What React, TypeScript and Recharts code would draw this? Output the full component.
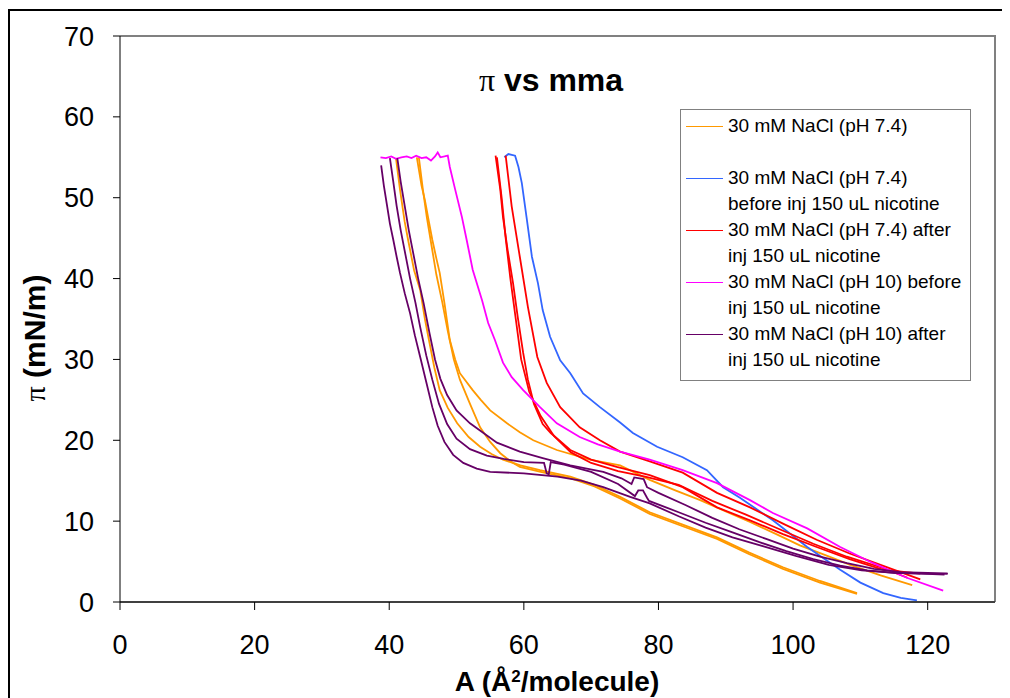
import { Line, LineChart, XAxis, YAxis } from 'recharts'

// x = A (Å²/molecule), y = π (mN/m)
const orangeRun1 = [
  [41.0, 54.9], [41.6, 51], [42.3, 47], [42.8, 44.8], [43.7, 41], [44.6, 38.6], [45.3, 35], [45.9, 32.4],
  [46.7, 29], [47.5, 26.2], [48.7, 24], [50.1, 22.1], [51.8, 20.4], [53.5, 19.2], [55.2, 18.3], [56.9, 17.6],
  [59.5, 16.9], [62.4, 16.3], [66.9, 15.5], [70.5, 14.5], [74.3, 13.0], [78.7, 11.1], [83.5, 9.6], [88.7, 8.0],
  [93.5, 6.1], [98.5, 4.3], [104, 2.6], [109.5, 1.1],
]
const orangeRun2 = [
  [44.4, 55.0], [45.0, 51], [45.6, 47.5], [46.3, 44], [47.0, 40.5], [47.9, 37], [48.7, 33.5], [49.6, 30],
  [50.5, 27.5], [52, 24.5], [53.5, 21.6], [55, 19.8], [56.5, 18.4], [58, 17.4], [59.4, 16.7], [62.5, 16.1],
  [67, 15.3], [70.5, 14.3], [74.3, 12.8], [78.7, 10.9], [83.5, 9.4], [88.7, 7.8], [93.5, 5.9], [98.5, 4.1],
  [104, 2.4], [109.5, 1.0],
]
const orangeRun3 = [
  [44.1, 55.0], [44.8, 51.5], [45.3, 49.7], [45.9, 47], [46.4, 44.8], [47.0, 42.5], [47.5, 40.7], [48.2, 37],
  [49.0, 32.4], [49.8, 30], [50.5, 28.3], [52.4, 26.2], [53.6, 25], [55.0, 23.7], [57.5, 22.1], [59.4, 21],
  [61.4, 20.0], [64.9, 18.8], [69.8, 17.6], [74.3, 16.9], [78.7, 15.1], [82.5, 13.8], [86.2, 12.6], [90, 11.2],
  [93.6, 9.9], [97.5, 8.4], [101.0, 7.0], [104.8, 5.8], [108.5, 4.6], [113, 3.3], [117.7, 2.1],
]

const blueRun = [
  [57.1, 55.0], [57.7, 55.4], [58.7, 55.2], [59.2, 53.8], [59.7, 51.8], [60.4, 47.6], [61.2, 42.7], [62.1, 39.4],
  [62.8, 36.1], [63.9, 32.8], [65.4, 29.9], [66.9, 28.3], [68.8, 25.8], [71.3, 24.1], [74.3, 22.2], [76.2, 20.9],
  [79.8, 19.2], [83.6, 17.9], [87.2, 16.3], [89.6, 14.2], [92.1, 12.9], [97, 10.1], [102.1, 6.8], [107, 4.0],
  [110, 2.4], [113.4, 1.1], [116, 0.5], [118.4, 0.2],
]

const redRun1 = [
  [57.3, 55.2], [58.2, 48.9], [59.4, 42.7], [60.6, 36.5], [62, 30.3], [63.4, 27.1], [65.4, 24.1], [68.3, 21.6],
  [71.3, 20], [74.3, 18.6], [78.7, 17.4], [83.6, 16], [88.7, 13.5], [93.6, 11.7], [98.5, 9.7], [103.5, 7.7],
  [108.4, 6.0], [113.3, 4.5], [118.9, 2.8],
]
const redRun2 = [
  [55.8, 55.2], [56.5, 51], [56.9, 47.6], [57.6, 43.5], [58.4, 39.4], [59.1, 35.2], [59.9, 30.8], [60.6, 27.5],
  [61.5, 24.5], [62.8, 22], [64, 20.9], [66.9, 18.8], [70, 17.6], [73.8, 16.7], [78.7, 15.7], [83.6, 14.2],
  [88.7, 11.7], [93.6, 10.1], [98.5, 8.4], [103.5, 6.8], [108.4, 5.3], [113.3, 4.0], [118.9, 3.5],
]
const redRun3 = [
  [56.0, 55.0], [56.7, 50], [57.3, 45], [58.0, 40], [58.8, 35], [59.6, 30], [60.8, 26], [62.5, 23],
  [64.5, 20.5], [67, 18.5], [70, 17.2], [74, 16.2], [78, 15.5], [83, 14.5], [88, 12.5], [93, 10.8],
  [98, 9.0], [103, 7.2], [108, 5.6], [113, 4.3], [117, 3.0],
]

const magentaRun = [
  [38.7, 55.0], [39.5, 54.9], [40.3, 55.1], [41.0, 54.8], [41.8, 55.0], [42.6, 55.1], [43.3, 54.9], [44.0, 55.2],
  [44.8, 54.9], [45.5, 55.0], [46.2, 54.6], [46.8, 55.1], [47.2, 55.6], [47.6, 55.0], [48.2, 55.1], [48.7, 55.2],
  [49.0, 53.8], [49.8, 51], [50.8, 47.6], [51.5, 44.8], [52.4, 41.1], [53.8, 37.3], [54.7, 34.5], [55.7, 32.4],
  [56.9, 29.6], [58.2, 27.8], [59.9, 26.2], [62.4, 24.1], [64.9, 22.1], [68.3, 20.4], [71, 19.5], [74.3, 18.6],
  [78.7, 17.6], [83.6, 16.3], [88.7, 14.7], [93.6, 12.6], [97, 11.0], [102.1, 9.1], [107, 6.8], [111.9, 4.8],
  [116.9, 3.0], [122.3, 1.4],
]

const purpleRun1 = [
  [38.8, 54.0], [39.2, 51.5], [39.7, 48.9], [40.1, 46.8], [40.6, 44.8], [41.1, 42.7], [41.6, 40.7], [42.3, 38.2],
  [43.1, 35.7], [43.8, 33], [44.6, 30.3], [45.5, 27.2], [46.4, 24.1], [47.2, 21.8], [48.2, 19.8], [49.5, 18.2],
  [51, 17.2], [53, 16.5], [55, 16.1], [60, 15.9], [65, 15.5], [68.5, 15.0], [71.8, 14.2], [75.8, 13.0], [78.7, 12.2],
  [83, 10.6], [87, 9.2], [91, 8.0], [95.5, 6.9], [100.4, 5.7], [105.3, 4.6], [110.2, 3.9], [115.1, 3.6],
  [119.9, 3.5], [122.9, 3.5],
]
const purpleRun2 = [
  [40.1, 54.9], [40.6, 52], [41.1, 49], [41.7, 46], [42.4, 43], [43.1, 40], [43.9, 37], [44.6, 34],
  [45.5, 30.5], [46.4, 27.5], [47.4, 24.5], [48.6, 22], [50, 20.2], [52, 18.9], [54.5, 18.1], [57, 17.7],
  [60, 17.3], [63.0, 17.2], [63.4, 15.9], [63.7, 15.8], [64.0, 17.3], [66, 17.0], [70, 16.1], [74, 14.6],
  [76.5, 13.1], [77.0, 13.8], [77.7, 13.8], [78.3, 12.9], [78.6, 12.5], [83, 11.1], [87, 9.8], [91, 8.6],
  [95, 7.4], [99, 6.3], [103, 5.3], [107, 4.5], [111, 3.9], [115, 3.6], [119, 3.5], [122.5, 3.4],
]
const purpleRun3 = [
  [41.2, 54.9], [41.7, 52], [42.3, 49], [42.9, 46], [43.6, 43], [44.3, 40], [45.1, 37], [46, 33.2],
  [46.8, 30], [47.6, 27.6], [48.6, 25.6], [50, 23.7], [52, 22.1], [56, 19.7], [59.4, 18.6], [62.8, 17.8],
  [66.9, 16.9], [71.8, 16.1], [74.5, 15.3], [76.0, 14.6], [76.4, 15.4], [77.8, 15.2], [78.3, 14.2], [80, 13.5],
  [84, 12.0], [88, 10.4], [92, 9.0], [96, 7.8], [100, 6.6], [104, 5.6], [108, 4.8], [112, 4.1],
  [116, 3.7], [120, 3.6], [123, 3.5],
]

const xTicks = [0, 20, 40, 60, 80, 100, 120]
const yTicks = [0, 10, 20, 30, 40, 50, 60, 70]

const legendItems = [
  { color: '#FF9900', lines: ['30 mM NaCl (pH 7.4)', ''] },
  { color: '#3366FF', lines: ['30 mM NaCl (pH 7.4)', 'before inj 150 uL nicotine'] },
  { color: '#FF0000', lines: ['30 mM NaCl (pH 7.4) after', 'inj 150 uL nicotine'] },
  { color: '#FF00FF', lines: ['30 mM NaCl (pH 10) before', 'inj 150 uL nicotine'] },
  { color: '#660066', lines: ['30 mM NaCl (pH 10) after', 'inj 150 uL nicotine'] },
]

const traces = [
  { key: 'o1', color: '#FF9900', pts: orangeRun1 },
  { key: 'o2', color: '#FF9900', pts: orangeRun2 },
  { key: 'o3', color: '#FF9900', pts: orangeRun3 },
  { key: 'b1', color: '#3366FF', pts: blueRun },
  { key: 'r1', color: '#FF0000', pts: redRun1 },
  { key: 'r2', color: '#FF0000', pts: redRun2 },
  { key: 'r3', color: '#FF0000', pts: redRun3 },
  { key: 'm1', color: '#FF00FF', pts: magentaRun },
  { key: 'p1', color: '#660066', pts: purpleRun1 },
  { key: 'p2', color: '#660066', pts: purpleRun2 },
  { key: 'p3', color: '#660066', pts: purpleRun3 },
]

const FONT = '"Liberation Sans", Arial, sans-serif'

function LegendBox() {
  return (
    <div
      style={{
        position: 'absolute',
        left: 672,
        top: 101,
        width: 291,
        height: 272,
        border: '1px solid #808080',
        background: '#fff',
        paddingTop: 3,
        boxSizing: 'border-box',
        fontFamily: FONT,
        fontSize: 19,
        lineHeight: '26px',
        color: '#000',
      }}
    >
      {legendItems.map((it, i) => (
        <div key={i} style={{ position: 'relative', paddingLeft: 47, whiteSpace: 'nowrap' }}>
          <div
            style={{
              position: 'absolute',
              left: 5,
              top: 13,
              width: 37,
              height: 0,
              borderTop: `1.5px solid ${it.color}`,
            }}
          />
          <div>{it.lines[0]}</div>
          <div>{it.lines[1] || '\u00a0'}</div>
        </div>
      ))}
    </div>
  )
}

export default function App() {
  return (
    <div style={{ position: 'relative', width: 1002, height: 690, fontFamily: FONT }}>
      {/* outer chart border */}
      <div
        style={{
          position: 'absolute',
          left: 0,
          top: 1,
          width: 1010,
          height: 700,
          borderTop: '2px solid #000',
          borderLeft: '2px solid #000',
        }}
      />
      {/* plot area border */}
      <div
        style={{
          position: 'absolute',
          left: 112,
          top: 27,
          width: 876,
          height: 567,
          borderTop: '2px solid #808080',
          borderRight: '2px solid #808080',
          boxSizing: 'border-box',
        }}
      />
      <LineChart width={1002} height={690} margin={{ top: 28, right: 15, bottom: 0, left: 0 }}>
        <XAxis
          dataKey="x"
          type="number"
          domain={[0, 130]}
          ticks={xTicks}
          allowDataOverflow
          axisLine={{ stroke: '#404040', strokeWidth: 2 }}
          tickLine={{ stroke: '#000' }}
          tickSize={8}
          tickMargin={25}
          height={96}
          tick={{ fill: '#000', fontSize: 27, fontFamily: FONT }}
        />
        <YAxis
          type="number"
          domain={[0, 70]}
          ticks={yTicks}
          allowDataOverflow
          width={112}
          axisLine={{ stroke: '#000' }}
          tickLine={{ stroke: '#000' }}
          tickSize={7}
          tickMargin={19}
          tick={{ fill: '#000', fontSize: 27, fontFamily: FONT }}
        />
        {traces.map((t) => (
          <Line
            key={t.key}
            data={t.pts.map(([x, y]) => ({ x, y }))}
            dataKey="y"
            type="linear"
            stroke={t.color}
            strokeWidth={1.8}
            dot={false}
            activeDot={false}
            legendType="none"
            isAnimationActive={false}
          />
        ))}
      </LineChart>
      <LegendBox />
      {/* title */}
      <div
        style={{
          position: 'absolute',
          left: 543,
          top: 72,
          transform: 'translate(-50%, -50%)',
          fontSize: 32,
          fontWeight: 'bold',
          whiteSpace: 'nowrap',
          lineHeight: 1,
        }}
      >
        <span style={{ fontFamily: '"Liberation Serif", serif', fontWeight: 'normal' }}>π</span> vs mma
      </div>
      {/* y label */}
      <div
        style={{
          position: 'absolute',
          left: 27,
          top: 330,
          transform: 'translate(-50%, -50%) rotate(-90deg)',
          fontSize: 30,
          fontWeight: 'bold',
          whiteSpace: 'nowrap',
          lineHeight: 1,
        }}
      >
        <span style={{ fontFamily: '"Liberation Serif", serif', fontWeight: 'normal' }}>π</span> (mN/m)
      </div>
      {/* x label */}
      <div
        style={{
          position: 'absolute',
          left: 549,
          top: 674,
          transform: 'translate(-50%, -50%)',
          fontSize: 28,
          fontWeight: 'bold',
          whiteSpace: 'nowrap',
          lineHeight: 1,
        }}
      >
        A (Å<sup style={{ fontSize: 17, verticalAlign: 'top', lineHeight: 1 }}>2</sup>/molecule)
      </div>
    </div>
  )
}
